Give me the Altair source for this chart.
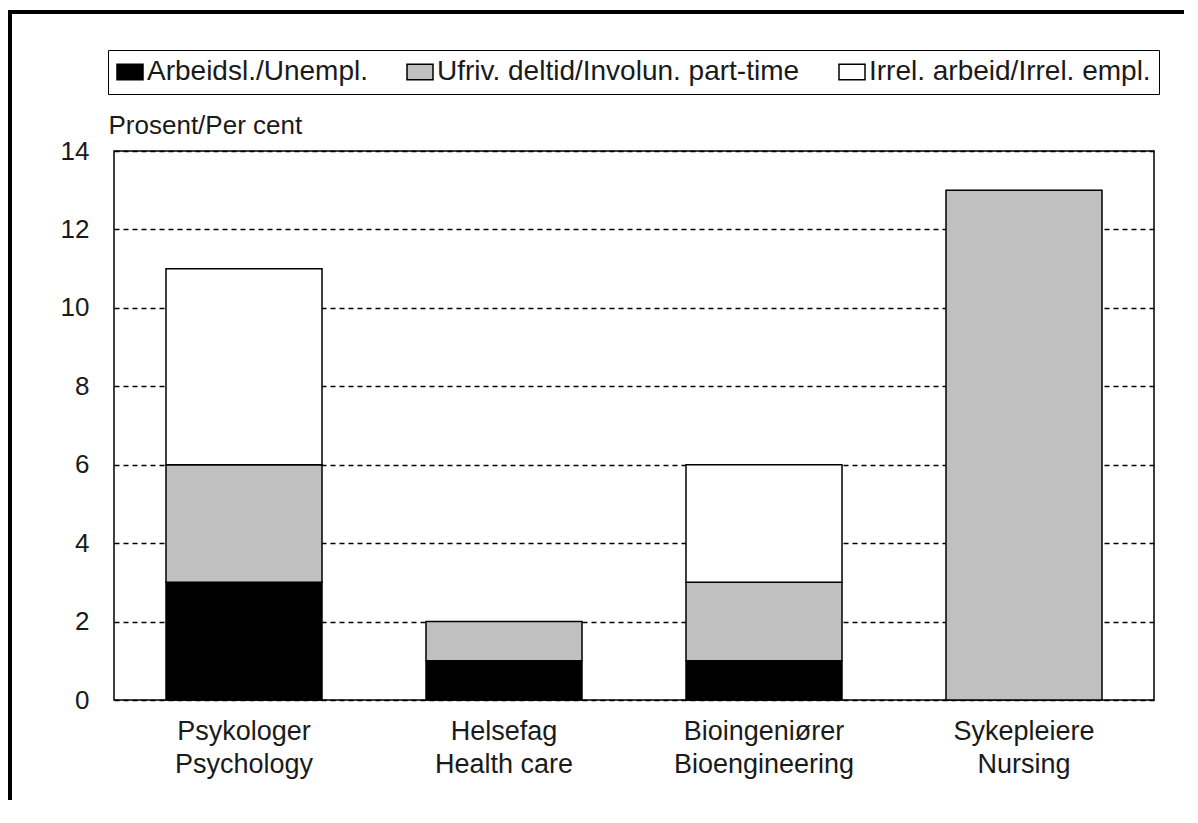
import altair as alt
import pandas as pd

categories_no = ["Psykologer", "Helsefag", "Bioingeniører", "Sykepleiere"]
categories_en = ["Psychology", "Health care", "Bioengineering", "Nursing"]
series = ["Arbeidsl./Unempl.", "Ufriv. deltid/Involun. part-time", "Irrel. arbeid/Irrel. empl."]
unemployed = [3, 1, 1, 0]
involuntary = [3, 1, 2, 13]
irrelevant = [5, 0, 3, 0]
series_colors = ["#000000", "#c0c0c0", "#ffffff"]
y_ticks = [0, 2, 4, 6, 8, 10, 12, 14]

cat_labels = [no + "|" + en for no, en in zip(categories_no, categories_en)]
rows = []
for i, lab in enumerate(cat_labels):
    for s_idx, (s, vals) in enumerate(zip(series, [unemployed, involuntary, irrelevant])):
        if vals[i] > 0:
            rows.append({"category": lab, "series": s, "order": s_idx, "value": vals[i]})
df = pd.DataFrame(rows)

FONT = "Liberation Sans"
TXT = "#1a1a1a"

bars = alt.Chart(df).mark_bar(stroke="black", strokeWidth=1.5).encode(
    x=alt.X("category:N", sort=cat_labels,
            scale=alt.Scale(paddingInner=0.4, paddingOuter=0.2),
            axis=alt.Axis(title=None, labelExpr="split(datum.value, '|')", labelAngle=0,
                          ticks=False, domain=False, labelFontSize=27, labelLineHeight=33,
                          labelPadding=18, labelColor=TXT, labelFont=FONT, labelBaseline="top",
                          labelLimit=400)),
    y=alt.Y("value:Q", stack="zero", scale=alt.Scale(domain=[0, 14]),
            axis=alt.Axis(values=y_ticks, title="Prosent/Per cent", titleAngle=0,
                          titleX=-6, titleY=-26, titleAlign="left", titleBaseline="middle",
                          titleFontSize=26, titleFontWeight="normal", titleFont=FONT, titleColor=TXT,
                          grid=True, gridDash=[5, 4], gridColor="black", gridWidth=1.5,
                          ticks=False, domain=False, labelPadding=25, labelFontSize=26,
                          labelFont=FONT, labelColor=TXT)),
    color=alt.Color("series:N", scale=alt.Scale(domain=series, range=series_colors),
                    legend=alt.Legend(title=None, orient="none", legendX=-6, legendY=-101,
                                      direction="horizontal", symbolType="M-1,-0.6H1V0.6H-1Z",
                                      symbolSize=676, symbolStrokeColor="black", symbolStrokeWidth=1.5,
                                      symbolOpacity=1, labelFontSize=28, labelFont=FONT, labelColor=TXT,
                                      labelOffset=3, columnPadding=36, padding=8,
                                      strokeColor="black", fillColor="white", labelLimit=0)),
    order=alt.Order("order:Q"),
)

one = pd.DataFrame({"a": [0]})
frame_top = alt.Chart(one).mark_rule(color="black", strokeWidth=4).encode(
    x=alt.value(-106), x2=alt.value(1100), y=alt.value(-139))
frame_left = alt.Chart(one).mark_rule(color="black", strokeWidth=4).encode(
    x=alt.value(-104), y=alt.value(-141), y2=alt.value(700))

chart = alt.layer(bars, frame_top, frame_left).properties(
    width=1040, height=549,
    autosize=alt.AutoSizeParams(type="none"),
    padding={"left": 106, "top": 143, "right": 30, "bottom": 100},
).configure_view(stroke="black", strokeWidth=1.5)

chart.save("out.html", embed_options={"renderer": "svg", "actions": False})
